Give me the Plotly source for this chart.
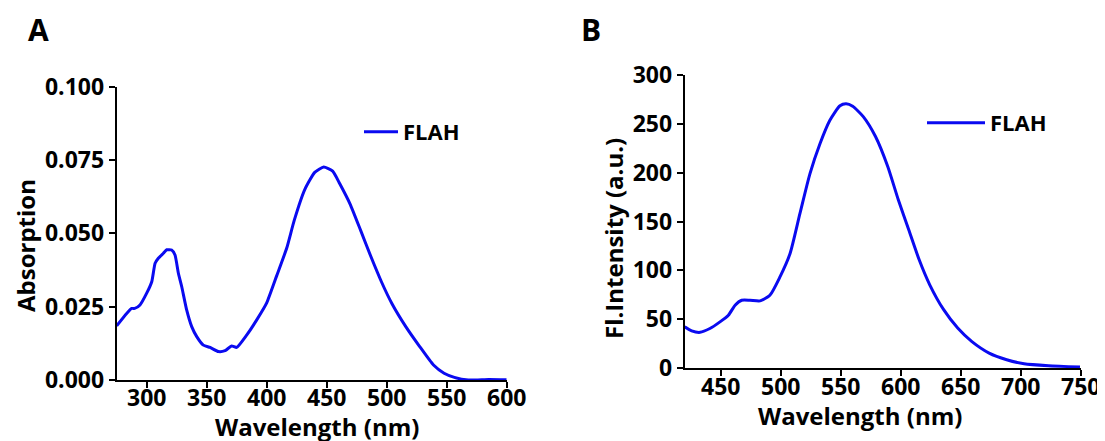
import plotly.graph_objects as go

# Panel A: absorption spectrum
abs_nm = [275, 283.3, 287.5, 290, 294.4, 300, 304.2, 307, 309.7, 313.9, 316.7, 320.8, 323.6,
          326.4, 329.2, 333.3, 337.5, 341.7, 347.2, 352.8, 359.7, 365.3, 370.8, 375, 383.3,
          391.7, 400, 408.3, 416.7, 423, 431.8, 440, 447.5, 455, 460.8, 469.5, 478.2, 486.9,
          495.6, 504.3, 515.9, 527.5, 539, 547.8, 556.4, 568, 585, 600]
abs_val = [0.0185, 0.0227, 0.0244, 0.0244, 0.0256, 0.0296, 0.0335, 0.0398, 0.0415, 0.0432,
           0.0444, 0.0443, 0.0426, 0.0364, 0.0318, 0.0239, 0.0182, 0.0148, 0.0119, 0.0111,
           0.0097, 0.0100, 0.0116, 0.0111, 0.0153, 0.0205, 0.0263, 0.0355, 0.0450, 0.0545,
           0.0650, 0.0708, 0.0726, 0.0712, 0.0670, 0.0600, 0.0511, 0.0420, 0.0335, 0.0261,
           0.0182, 0.0114, 0.0051, 0.0023, 0.0009, 0.0000, 0.0002, 0.0001]

# Panel B: fluorescence spectrum
fl_nm = [420, 425.8, 432.8, 441, 449.4, 456.4, 462, 467.5, 474.4, 482.8, 491, 499.4, 507.8,
         516, 524.4, 532.8, 541, 549.4, 554.5, 560, 568.8, 579, 589.2, 598, 606.7, 615.4,
         624.2, 635.8, 647.5, 659.1, 673.7, 688.3, 702.8, 723.2, 749.4]
fl_val = [42.1, 38, 36.5, 40.4, 47.2, 54, 64.3, 69.4, 69.4, 68.7, 74.5, 93.3, 117.2, 158,
          199, 229.9, 253.7, 268.5, 270.6, 268, 257.4, 237, 206.3, 172.2, 141.5, 110.8, 85.2,
          59.7, 40.9, 27.3, 15.3, 8.5, 4.4, 2.4, 1.0]

series_name = "FLAH"
a_xticks = [300, 350, 400, 450, 500, 550, 600]
a_yticks = [0.0, 0.025, 0.05, 0.075, 0.1]
b_xticks = [450, 500, 550, 600, 650, 700, 750]
b_yticks = [0, 50, 100, 150, 200, 250, 300]

W, H = 1105, 441
OFF = 8  # page body margin offset
FONT = "Open Sans"
BLUE = "#0A0AF0"


def px(x):
    return (x - OFF) / W


def py(y):
    return 1 - (y - OFF) / H


fig = go.Figure()
fig.add_trace(go.Scatter(x=abs_nm, y=abs_val, mode="lines", name=series_name,
                         showlegend=True,
                         line=dict(color=BLUE, width=3, shape="spline", smoothing=0.5),
                         xaxis="x", yaxis="y", legend="legend"))
fig.add_trace(go.Scatter(x=fl_nm, y=fl_val, mode="lines", name=series_name,
                         showlegend=True,
                         line=dict(color=BLUE, width=3, shape="spline", smoothing=0.6),
                         xaxis="x2", yaxis="y2", legend="legend2"))

axis_common = dict(showline=True, linecolor="black", linewidth=2, ticks="outside",
                   ticklen=6, tickwidth=2, tickcolor="black", showgrid=False,
                   zeroline=False, mirror=False, automargin=False,
                   tickfont=dict(family=FONT, size=23, color="black", weight="bold"))

fig.update_layout(
    width=W, height=H, margin=dict(l=0, r=0, t=0, b=0, autoexpand=False),
    plot_bgcolor="white", paper_bgcolor="white", showlegend=True,
    xaxis=dict(domain=[px(116.7), px(506.7)], range=[275, 600], tickvals=a_xticks,
               anchor="y", ticklabelstandoff=-10, **axis_common),
    yaxis=dict(domain=[py(380), py(86.7)], range=[0, 0.1], tickvals=a_yticks,
               tickformat=".3f", anchor="x", **axis_common),
    xaxis2=dict(domain=[px(684.7), px(1080.7)], range=[420, 750], tickvals=b_xticks,
                anchor="y2", ticklabelstandoff=-9, **axis_common),
    yaxis2=dict(domain=[py(368), py(75)], range=[0, 300], tickvals=b_yticks,
                anchor="x2", **axis_common),
    legend=dict(x=px(359), y=py(132), xanchor="left", yanchor="middle",
                bgcolor="rgba(0,0,0,0)", itemwidth=34,
                font=dict(family=FONT, size=22, color="black", weight="bold")),
    legend2=dict(x=px(922), y=py(123), xanchor="left", yanchor="middle",
                 bgcolor="rgba(0,0,0,0)", itemwidth=58,
                 font=dict(family=FONT, size=22, color="black", weight="bold")),
)

title_font = dict(family=FONT, size=24, color="black", weight="bold")
anns = [
    dict(text="A", x=px(38), y=py(30), font=dict(family=FONT, size=30, color="black", weight="bold")),
    dict(text="B", x=px(591), y=py(30), font=dict(family=FONT, size=30, color="black", weight="bold")),
    dict(text="Absorption", x=px(25), y=py(246), textangle=-90, font=title_font),
    dict(text="Wavelength (nm)", x=px(317), y=py(426), font=title_font),
    dict(text="Fl.Intensity (a.u.)", x=px(613), y=py(239), textangle=-90, font=title_font),
    dict(text="Wavelength (nm)", x=px(860), y=py(415), font=title_font),
]
for a in anns:
    fig.add_annotation(xref="paper", yref="paper", showarrow=False,
                       xanchor="center", yanchor="middle", **a)

fig.write_html("out.html")
